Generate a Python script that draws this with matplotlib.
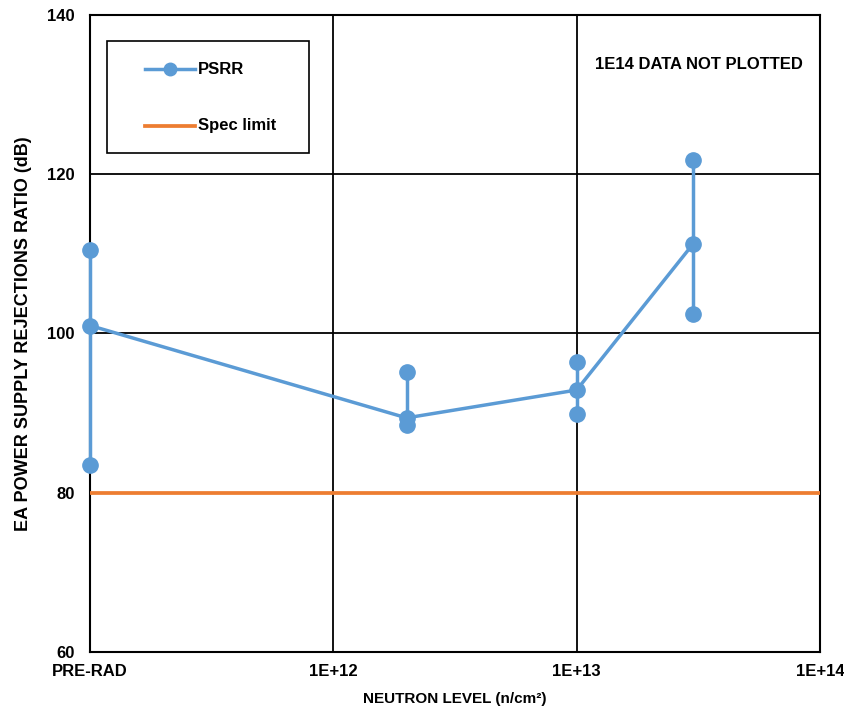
import matplotlib.pyplot as plt
from matplotlib.patches import Rectangle

plt.rcParams['font.family'] = ['Liberation Sans', 'DejaVu Sans']
plt.rcParams['font.weight'] = 'bold'

# neutron fluence per group (pre-rad plotted at 1E11 on the log axis)
fluence = [1e11, 2e12, 1e13, 3e13]
psrr_max = [110.5, 95.2, 96.4, 121.8]
psrr_med = [101.0, 89.4, 92.9, 111.2]
psrr_min = [83.5, 88.5, 89.9, 102.5]
spec_limit = 80

tick_pos = [1e11, 1e12, 1e13, 1e14]
tick_labels = ['PRE-RAD', '1E+12', '1E+13', '1E+14']

blue = '#5B9BD5'
orange = '#ED7D31'

fig = plt.figure(figsize=(8.44, 7.06), dpi=100)
ax = fig.add_axes([0.1066, 0.0765, 0.8650, 0.9023])

ax.set_xscale('log')
ax.set_xlim(1e11, 1e14)
ax.set_ylim(60, 140)

ax.axhline(spec_limit, color=orange, lw=2.7, zorder=3)

# spread at each fluence, then the line through the medians
for x, lo, hi in zip(fluence, psrr_min, psrr_max):
    ax.plot([x, x], [lo, hi], color=blue, lw=2.5, zorder=4,
            solid_capstyle='butt', clip_on=False)
ax.plot(fluence, psrr_med, color=blue, lw=2.5, zorder=4, clip_on=False)
for vals in (psrr_max, psrr_med, psrr_min):
    ax.plot(fluence, vals, 'o', color=blue, ms=11, zorder=5, clip_on=False)

ax.set_xticks(tick_pos)
ax.set_xticklabels(tick_labels)
ax.xaxis.set_minor_locator(plt.NullLocator())
ax.set_yticks([60, 80, 100, 120, 140])
ax.tick_params(axis='both', length=0, labelsize=12)
ax.tick_params(axis='y', pad=11)
ax.tick_params(axis='x', pad=9)

ax.grid(True, color='black', lw=1.3)
ax.set_axisbelow(True)
for s in ax.spines.values():
    s.set_linewidth(1.5)

ax.set_xlabel('NEUTRON LEVEL (n/cm²)', fontsize=11, fontweight='bold', labelpad=9)
ax.set_ylabel('EA POWER SUPPLY REJECTIONS RATIO (dB)', fontsize=13,
              fontweight='bold', labelpad=11)

ax.text(0.977, 0.922, '1E14 DATA NOT PLOTTED', transform=ax.transAxes,
        ha='right', va='center', fontsize=12, fontweight='bold')

# legend box
ax.add_patch(Rectangle((0.023, 0.783), 0.277, 0.176, transform=ax.transAxes,
                       facecolor='white', edgecolor='black', lw=1.2, zorder=6))
ax.plot([0.075, 0.144], [0.915, 0.915], color=blue, lw=2.5,
        transform=ax.transAxes, zorder=7)
ax.plot([0.1095], [0.915], 'o', color=blue, ms=9, transform=ax.transAxes, zorder=7)
ax.plot([0.075, 0.144], [0.826, 0.826], color=orange, lw=2.7,
        transform=ax.transAxes, zorder=7)
ax.text(0.148, 0.915, 'PSRR', transform=ax.transAxes, ha='left', va='center',
        fontsize=12, fontweight='bold', zorder=8)
ax.text(0.148, 0.826, 'Spec limit', transform=ax.transAxes, ha='left', va='center',
        fontsize=12, fontweight='bold', zorder=8)

fig.savefig('out.png', dpi=100)
